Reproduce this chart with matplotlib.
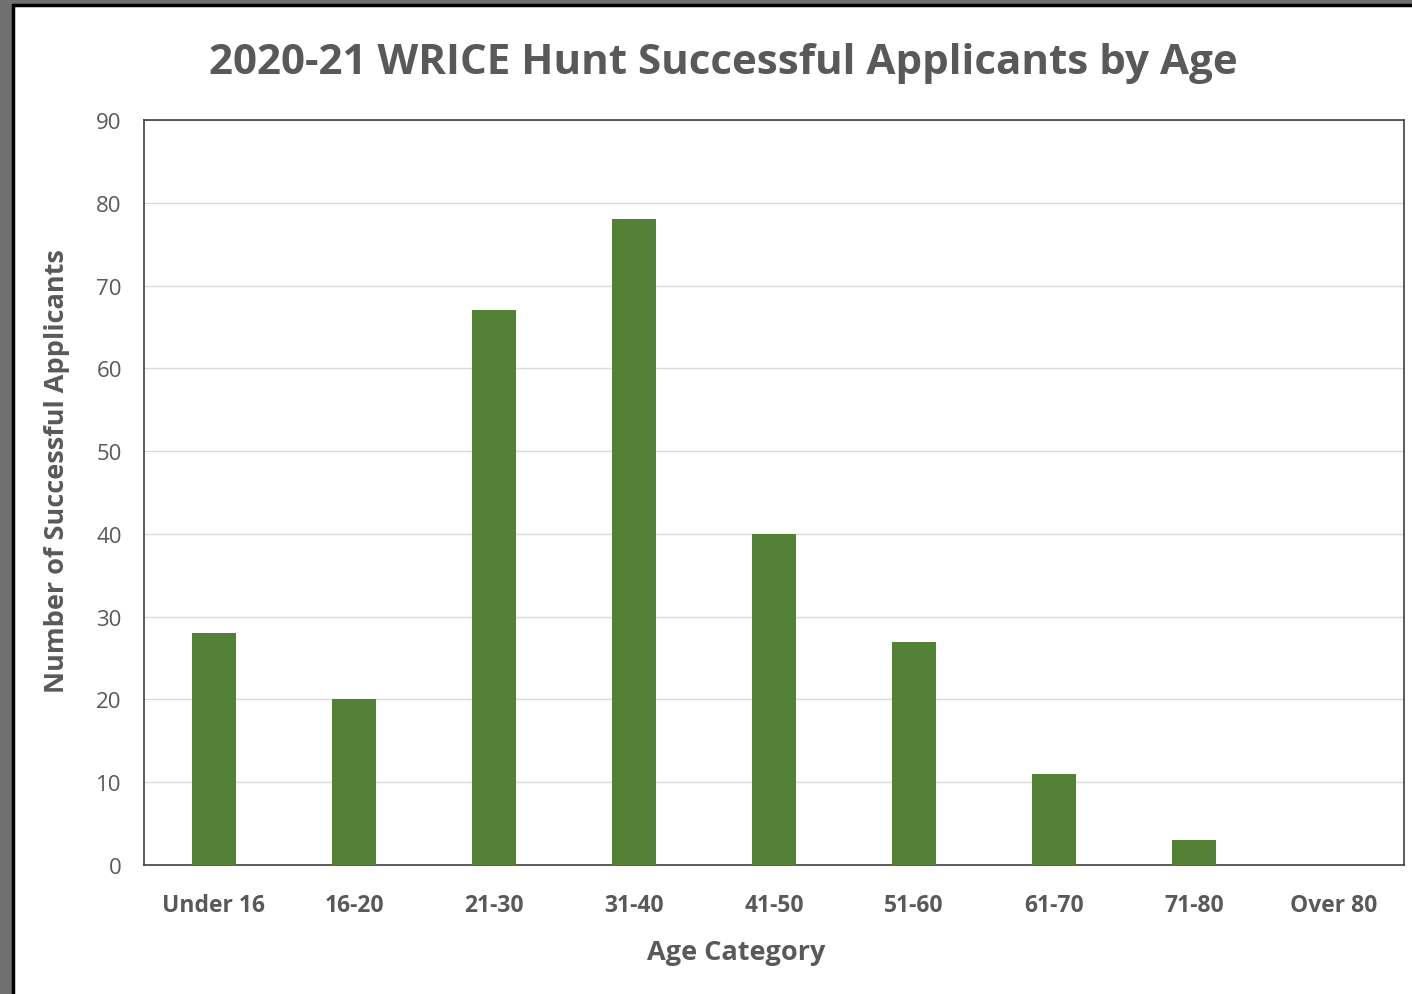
import matplotlib.pyplot as plt
from matplotlib.patches import Rectangle

categories = ['Under 16', '16-20', '21-30', '31-40', '41-50', '51-60', '61-70', '71-80', 'Over 80']
applicants = [28, 20, 67, 78, 40, 27, 11, 3, 0]
y_ticks = list(range(0, 91, 10))

W, H = 1412, 995
fig = plt.figure(figsize=(W / 100, H / 100), dpi=100)
fig.patch.set_facecolor('#707070')
plt.rcParams['font.family'] = ['Open Sans', 'DejaVu Sans']

# white chart sheet over gray background
sheet = Rectangle((13 / W, -0.01), 1.0, 1 - 6 / H + 0.01, transform=fig.transFigure,
                  facecolor='white', edgecolor='black', linewidth=2.5, zorder=-5)
fig.patches.append(sheet)

ax = fig.add_axes([144 / W, 1 - 866 / H, (1404 - 144) / W, (866 - 121) / H])
ax.set_facecolor('white')
x = range(len(categories))
ax.bar(x, applicants, width=0.315, color='#538135', zorder=3)

ax.set_xlim(-0.5, len(categories) - 0.5)
ax.set_ylim(0, 90)
ax.set_yticks(y_ticks)
ax.set_xticks(list(x))
ax.set_xticklabels(categories, fontsize=16.5, fontweight='bold', color='#595959')
ax.tick_params(axis='y', labelsize=16, labelcolor='#595959', length=0, pad=16)
ax.tick_params(axis='x', length=0, pad=20)
ax.yaxis.grid(True, color='#d9d9d9', linewidth=1, zorder=0)
ax.set_axisbelow(True)
for s in ax.spines.values():
    s.set_color('#404040')
    s.set_linewidth(1.2)

fig.text(736 / W, 1 - 953 / H, 'Age Category', ha='center', va='center',
         fontsize=19.5, fontweight='bold', color='#595959')
fig.text(57 / W, 1 - 471 / H, 'Number of Successful Applicants', ha='center', va='center',
         rotation=90, fontsize=19.5, fontweight='bold', color='#595959')
fig.text(723 / W, 1 - 63 / H, '2020-21 WRICE Hunt Successful Applicants by Age', ha='center', va='center',
         fontsize=30.3, fontweight='bold', color='#595959')

fig.savefig('out.png', dpi=100, facecolor=fig.get_facecolor())
